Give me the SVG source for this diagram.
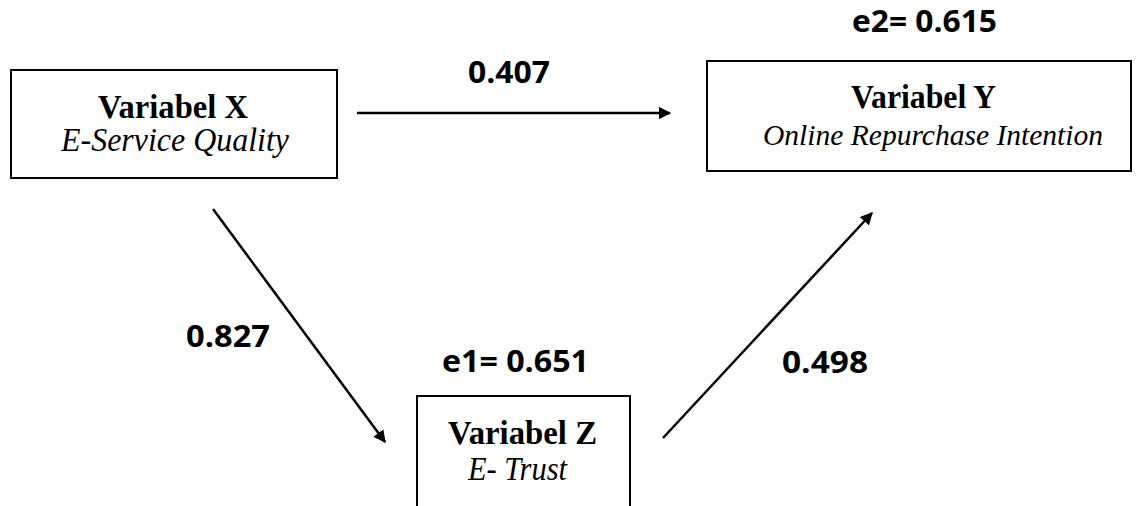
<svg xmlns="http://www.w3.org/2000/svg" width="1140" height="506" viewBox="0 0 1140 506">
  <style>
    .box { fill: #ffffff; stroke: #000000; stroke-width: 2; }
    .title { font-family: "Liberation Serif", "Times New Roman", serif; font-weight: bold; font-size: 33px; fill: #000; }
    .sub { font-family: "Liberation Serif", "Times New Roman", serif; font-style: italic; font-size: 33px; fill: #000; }
    .sub-long { font-size: 30px; }
    .coef { font-family: "Open Sans", "Liberation Sans", sans-serif; font-weight: bold; font-size: 30px; fill: #000; }
    .edge { stroke: #000000; stroke-width: 2.5; fill: none; marker-end: url(#head); }
  </style>
  <defs>
    <marker id="head" viewBox="0 0 10 10" refX="9" refY="5" markerWidth="5" markerHeight="5" orient="auto" markerUnits="strokeWidth">
      <path d="M0,0 L10,5 L0,10 z" fill="#000"/>
    </marker>
  </defs>
  <rect width="1140" height="506" fill="#ffffff"/>

  <g id="connectors">
    <line class="edge" x1="357" y1="113" x2="670" y2="113"/>
    <line class="edge" x1="213" y1="209" x2="385" y2="442"/>
    <line class="edge" x1="663" y1="438" x2="872" y2="213"/>
  </g>

  <g id="node-x">
    <rect class="box" x="11" y="70" width="326" height="108"/>
    <text class="title" x="98" y="118" textLength="150" lengthAdjust="spacingAndGlyphs">Variabel X</text>
    <text class="sub" x="61" y="151" textLength="228" lengthAdjust="spacingAndGlyphs">E-Service Quality</text>
  </g>

  <g id="node-y">
    <rect class="box" x="707" y="61" width="424" height="110"/>
    <text class="title" x="851" y="108" textLength="145" lengthAdjust="spacingAndGlyphs">Variabel Y</text>
    <text class="sub sub-long" x="763" y="145" textLength="340" lengthAdjust="spacingAndGlyphs">Online Repurchase Intention</text>
  </g>

  <g id="node-z">
    <rect class="box" x="417" y="396" width="213" height="120"/>
    <text class="title" x="448" y="444" textLength="149" lengthAdjust="spacingAndGlyphs">Variabel Z</text>
    <text class="sub" x="468" y="480" textLength="99" lengthAdjust="spacingAndGlyphs">E- Trust</text>
  </g>

  <g id="labels">
    <text class="coef" x="468" y="83" textLength="82" lengthAdjust="spacingAndGlyphs">0.407</text>
    <text class="coef" x="186" y="347" textLength="84" lengthAdjust="spacingAndGlyphs">0.827</text>
    <text class="coef" x="782" y="373" textLength="86" lengthAdjust="spacingAndGlyphs">0.498</text>
    <text class="coef" x="442" y="372" textLength="147" lengthAdjust="spacingAndGlyphs">e1= 0.651</text>
    <text class="coef" x="852" y="32" textLength="145" lengthAdjust="spacingAndGlyphs">e2= 0.615</text>
  </g>
</svg>
